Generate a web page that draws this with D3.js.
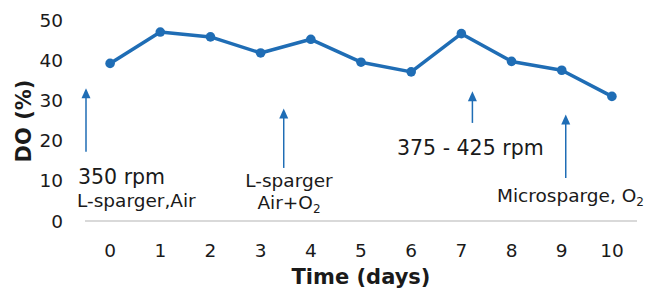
<!DOCTYPE html>
<meta charset="utf-8">
<head>
    <script src="https://d3js.org/d3.v7.min.js"></script>
    <style>
        body { margin: 0; background: #fff; }
        text { font-family: "DejaVu Sans", Verdana, sans-serif; fill: #1a1a1a; }
    </style>
</head>
<body>
<svg width="661" height="290"></svg>
<script>
    // days and dissolved oxygen values
    var days = [0, 1, 2, 3, 4, 5, 6, 7, 8, 9, 10];
    var doValues = [39.2, 47, 45.8, 41.8, 45.2, 39.5, 37.1, 46.6, 39.7, 37.5, 31];
    var yTicks = [0, 10, 20, 30, 40, 50];

    // annotation arrows: x in days (band offset), tip / tail in DO units
    var arrowX = [-0.48, 3.46, 7.22, 9.08];
    var arrowTip = [33, 28, 32.3, 26.5];
    var arrowTail = [17.2, 13.2, 24.4, 10.7];

    var blue = "#1f6db5";

    var svg = d3.select("svg");

    var x = d3.scaleBand()
        .domain(days)
        .range([85, 637]);

    var xLin = d3.scaleLinear()
        .domain([-0.5, 10.5])
        .range([85, 637]);

    var y = d3.scaleLinear()
        .domain([0, 50])
        .range([221, 20]);

    // x axis baseline
    svg.append("line")
        .attr("x1", x.range()[0]).attr("x2", x.range()[1])
        .attr("y1", y(0)).attr("y2", y(0))
        .style("stroke", "#d9d9d9")
        .style("stroke-width", 2);

    // x tick labels
    svg.append("g")
        .selectAll("text")
        .data(days)
        .enter().append("text")
        .attr("x", function (d) { return x(d) + x.bandwidth() / 2; })
        .attr("y", 257)
        .attr("text-anchor", "middle")
        .style("font-size", "18.5px")
        .text(function (d) { return d; });

    // y tick labels
    svg.append("g")
        .selectAll("text")
        .data(yTicks)
        .enter().append("text")
        .attr("x", 63)
        .attr("y", function (d) { return y(d); })
        .attr("dy", "0.36em")
        .attr("text-anchor", "end")
        .style("font-size", "18.5px")
        .text(function (d) { return d; });

    // axis titles
    svg.append("text")
        .attr("x", 361)
        .attr("y", 284)
        .attr("text-anchor", "middle")
        .style("font-size", "21px")
        .style("font-weight", "bold")
        .text("Time (days)");

    svg.append("text")
        .attr("transform", "translate(31,121) rotate(-90)")
        .attr("text-anchor", "middle")
        .style("font-size", "21px")
        .style("font-weight", "bold")
        .text("DO (%)");

    // the series
    var line = d3.line()
        .x(function (d, i) { return x(days[i]) + x.bandwidth() / 2; })
        .y(function (d) { return y(d); });

    svg.append("path")
        .datum(doValues)
        .attr("d", line)
        .style("fill", "none")
        .style("stroke", blue)
        .style("stroke-width", 3.5)
        .style("stroke-linejoin", "round");

    svg.append("g")
        .selectAll("circle")
        .data(doValues)
        .enter().append("circle")
        .attr("cx", function (d, i) { return x(days[i]) + x.bandwidth() / 2; })
        .attr("cy", function (d) { return y(d); })
        .attr("r", 4.8)
        .style("fill", blue);

    // arrows
    var arrows = svg.append("g");
    arrowX.forEach(function (ax, i) {
        var px = xLin(ax);
        var tip = y(arrowTip[i]);
        var tail = y(arrowTail[i]);
        arrows.append("line")
            .attr("x1", px).attr("x2", px)
            .attr("y1", tip + 8).attr("y2", tail)
            .style("stroke", blue)
            .style("stroke-width", 1.5);
        arrows.append("path")
            .attr("d", "M" + px + "," + tip + "L" + (px - 4.5) + "," + (tip + 10) + "L" + (px + 4.5) + "," + (tip + 10) + "Z")
            .style("fill", blue);
    });

    // annotation texts
    svg.append("text")
        .attr("x", 78).attr("y", 184)
        .style("font-size", "20.5px")
        .text("350 rpm");

    svg.append("text")
        .attr("x", 77).attr("y", 207)
        .style("font-size", "18.5px")
        .text("L-sparger,Air");

    svg.append("text")
        .attr("x", 289).attr("y", 187)
        .attr("text-anchor", "middle")
        .style("font-size", "18.5px")
        .text("L-sparger");

    var t2 = svg.append("text")
        .attr("x", 289).attr("y", 209)
        .attr("text-anchor", "middle")
        .style("font-size", "18.5px");
    t2.append("tspan").text("Air+O");
    t2.append("tspan").attr("dy", 4).style("font-size", "12px").text("2");

    svg.append("text")
        .attr("x", 397).attr("y", 155)
        .style("font-size", "20.5px")
        .text("375 - 425 rpm");

    var t4 = svg.append("text")
        .attr("x", 497).attr("y", 202)
        .style("font-size", "18.5px");
    t4.append("tspan").text("Microsparge, O");
    t4.append("tspan").attr("dy", 4).style("font-size", "12px").text("2");
</script>
</body>
